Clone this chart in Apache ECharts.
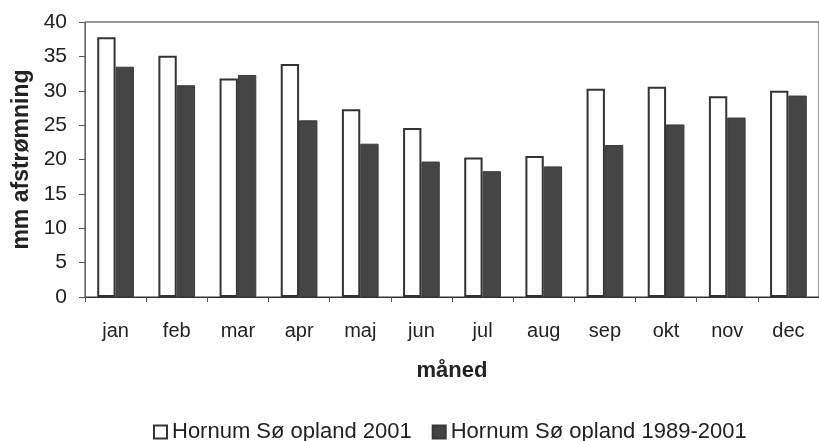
<!DOCTYPE html>
<html>
<head>
<meta charset="utf-8">
<script src="https://cdn.jsdelivr.net/npm/echarts@6/dist/echarts.min.js"></script>
<style>
  html, body { margin: 0; padding: 0; background: #fff; }
  #echarts { width: 819px; height: 441px; }
</style>
</head>
<body>
<div id="echarts"></div>
<script>
var months = ['jan', 'feb', 'mar', 'apr', 'maj', 'jun', 'jul', 'aug', 'sep', 'okt', 'nov', 'dec'];
var opland2001 = [37.8, 35.1, 31.8, 33.9, 27.3, 24.6, 20.3, 20.5, 30.3, 30.6, 29.2, 30.0];
var opland1989_2001 = [33.5, 30.8, 32.3, 25.7, 22.3, 19.7, 18.3, 19.0, 22.1, 25.1, 26.1, 29.3];
var yTicks = [0, 5, 10, 15, 20, 25, 30, 35, 40];

var myChart = echarts.init(document.getElementById('echarts'));

var font = 'Liberation Sans, Arial, sans-serif';

option = {
  backgroundColor: '#fff',
  animation: false,
  textStyle: { fontFamily: font, color: '#222' },
  grid: {
    left: 85,
    top: 22,
    width: 744,
    height: 275,
    show: true,
    borderColor: '#333',
    borderWidth: 1
  },
  legend: {
    top: 416,
    left: 148,
    itemWidth: 13,
    itemHeight: 13,
    itemGap: 20,
    icon: 'rect',
    textStyle: { fontFamily: font, fontSize: 22, color: '#222' },
    data: ['Hornum Sø opland 2001', 'Hornum Sø opland 1989-2001']
  },
  xAxis: {
    type: 'category',
    data: months,
    name: 'måned',
    nameLocation: 'middle',
    nameGap: 63,
    nameTextStyle: { fontFamily: font, fontSize: 22, fontWeight: 'bold', color: '#222' },
    axisLine: { lineStyle: { color: '#333', width: 1 } },
    axisTick: { show: true, length: 5, lineStyle: { color: '#555' } },
    axisLabel: { fontFamily: font, fontSize: 20, color: '#222', margin: 24 },
    splitLine: { show: false }
  },
  yAxis: {
    type: 'value',
    min: yTicks[0],
    max: yTicks[yTicks.length - 1],
    interval: 5,
    name: 'mm afstrømning',
    nameLocation: 'middle',
    nameGap: 50,
    nameTextStyle: { fontFamily: font, fontSize: 23, fontWeight: 'bold', color: '#222' },
    axisLine: { show: true, lineStyle: { color: '#666', width: 1 } },
    axisTick: { show: true, length: 6, lineStyle: { color: '#555' } },
    axisLabel: { fontFamily: font, fontSize: 21, color: '#222', margin: 18 },
    splitLine: { show: false }
  },
  series: [
    {
      name: 'Hornum Sø opland 2001',
      type: 'bar',
      data: opland2001,
      barGap: '0%',
      barCategoryGap: '40%',
      itemStyle: { color: '#fff', borderColor: '#333', borderWidth: 2 }
    },
    {
      name: 'Hornum Sø opland 1989-2001',
      type: 'bar',
      data: opland1989_2001,
      itemStyle: { color: '#454545', borderColor: '#3a3a3a', borderWidth: 1 }
    }
  ]
};

myChart.setOption(option);
</script>
</body>
</html>
